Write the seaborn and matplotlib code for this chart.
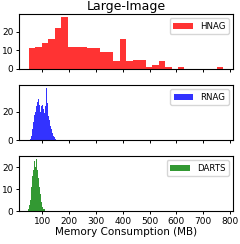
import numpy as np
import pandas as pd
import seaborn as sns
import matplotlib
matplotlib.use("Agg")
import matplotlib.pyplot as plt

# Histogram counts (30 bins per method)
hnag_range = (50, 775)
hnag_counts = [11, 12, 14, 16, 22, 28, 12, 12, 12, 11,
               11, 9, 9, 4, 16, 4, 5, 5, 1, 2,
               4, 1, 0, 1, 0, 0, 0, 0, 0, 1]

rnag_range = (55, 150)
rnag_counts = [1, 3, 8, 13, 16, 18, 20, 24, 27, 29,
               25, 22, 20, 24, 25, 22, 19, 24, 32, 37,
               26, 17, 14, 10, 10, 8, 5, 3, 2, 1]

darts_range = (48, 110)
darts_counts = [1, 2, 3, 5, 8, 11, 14, 16, 17, 19,
                21, 23, 20, 22, 24, 22, 19, 17, 15, 13,
                11, 8, 6, 4, 3, 2, 2, 1, 1, 1]

methods = ["HNAG", "RNAG", "DARTS"]
colors = ["red", "blue", "green"]
ranges = [hnag_range, rnag_range, darts_range]
counts = [hnag_counts, rnag_counts, darts_counts]
yticks = [[0, 10, 20], [0, 20], [0, 10, 20]]

fig, axes = plt.subplots(3, 1, figsize=(2.4, 2.44), dpi=100, sharex=True)
fig.subplots_adjust(left=0.079, right=0.971, top=0.943, bottom=0.135, hspace=0.29)

for ax, name, c, rng, cnt, yt in zip(axes, methods, colors, ranges, counts, yticks):
    nb = len(cnt)
    edges = np.linspace(rng[0], rng[1], nb + 1)
    centers = (edges[:-1] + edges[1:]) / 2
    df = pd.DataFrame({"memory": centers, "count": cnt})
    sns.histplot(data=df, x="memory", weights="count", bins=nb, binrange=rng,
                 color=c, alpha=0.8, linewidth=0, label=name, ax=ax)
    ax.set_ylabel("")
    ax.set_xlabel("")
    ax.set_yticks(yt)
    ax.tick_params(labelsize=6.5, length=2.5, width=0.7, pad=1.5)
    ax.legend(loc="upper right", fontsize=6.2, handlelength=2.3)

axes[0].set_title("Large-Image", fontsize=9, pad=3)
axes[-1].set_xlim(13, 811)
axes[-1].set_xticks([100, 200, 300, 400, 500, 600, 700, 800])
axes[-1].set_xlabel("Memory Consumption (MB)", fontsize=7.5, labelpad=1)

fig.savefig("out.png", dpi=100)
